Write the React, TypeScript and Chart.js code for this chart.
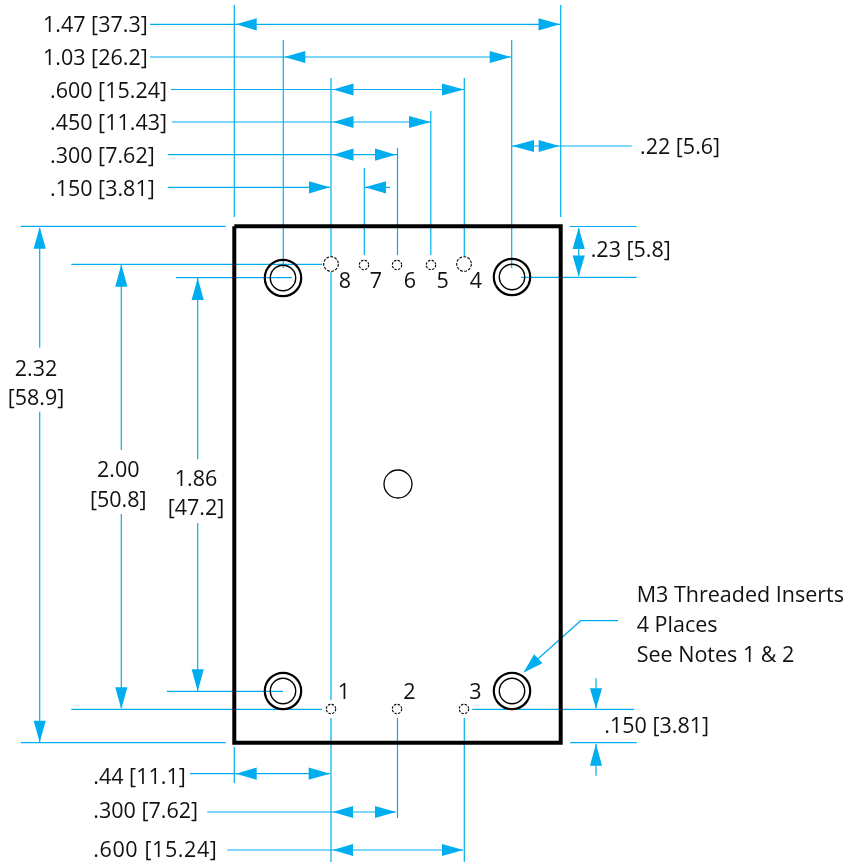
import React, { useEffect, useRef } from "react";
import { Chart, registerables } from "chart.js";

Chart.register(...registerables);

const WIDTH = 845;
const HEIGHT = 863;
const CYAN = "#00AEEF";
const INK = "#111111";

// Drawing read-offs, in drawing units (x1, y1, x2, y2)
const extensionLines: number[][] = [
  [234.3, 5, 234.3, 217], [283.3, 40, 283.3, 268], [331, 78, 331, 257], [331, 272, 331, 700],
  [331, 718, 331, 862], [364.3, 168, 364.3, 255], [397.5, 148, 397.5, 255], [430.8, 111, 430.8, 255],
  [464.3, 78, 464.3, 256], [511.7, 40, 511.7, 268], [560.7, 5, 560.7, 217],
  [234.3, 747, 234.3, 783], [397.5, 718, 397.5, 818], [464.3, 718, 464.3, 862],
  [20.7, 226.3, 225.7, 226.3], [71.3, 264.3, 322, 264.3], [176, 277.7, 292, 277.7],
  [167, 691.3, 283, 691.3], [71.3, 709.3, 322, 709.3], [20.7, 742.7, 225.7, 742.7],
  [569.7, 226.5, 636.7, 226.5], [521, 277.3, 636.7, 277.3], [472.3, 709.3, 634.3, 709.3], [570, 742.7, 636.7, 742.7],
];
const dimensionLines: number[][] = [
  [150, 24.3, 560, 24.3], [150, 57, 511, 57], [171, 89.5, 464, 89.5], [172, 122, 431, 122],
  [168, 154.7, 397, 154.7], [168, 187.3, 330, 187.3], [365, 187.3, 390, 187.3], [512, 146, 631.7, 146],
  [578.7, 228, 578.7, 276], [39.7, 228, 39.7, 347.7], [39.7, 411.7, 39.7, 742], [121.3, 265, 121.3, 450],
  [121.3, 514, 121.3, 708], [197.7, 278, 197.7, 459.3], [197.7, 523, 197.7, 691], [190, 773.7, 330, 773.7],
  [207.3, 812, 396, 812], [227.3, 850, 463, 850], [596, 678.3, 596, 708], [596, 744, 596, 775.7],
];
const leaderX = [618, 580.7, 530];
const leaderY = [620.7, 620.7, 666];

// tip x, tip y, base x, base y
const arrows: number[][] = [
  [236, 24.3, 256.7, 24.3], [560, 24.3, 538.5, 24.3], [284.3, 57, 305.3, 57], [511, 57, 489.7, 57],
  [333, 89.5, 353.5, 89.5], [464, 89.5, 442, 89.5], [333, 122, 353.5, 122], [431, 122, 409, 122],
  [333, 154.7, 353.5, 154.7], [396, 154.7, 375, 154.7], [330, 187.3, 309, 187.3], [365, 187.3, 386, 187.3],
  [512, 146, 534, 146], [559.3, 146, 538.7, 146], [578.7, 227.5, 578.7, 249], [578.7, 276.5, 578.7, 255.5],
  [39.7, 227, 39.7, 248.7], [39.7, 742.3, 39.7, 720.7], [121.3, 264.5, 121.3, 286.7], [121.3, 709, 121.3, 687.3],
  [197.7, 278, 197.7, 300], [197.7, 691.3, 197.7, 669.3], [235.7, 773.7, 256.7, 773.7], [330, 773.7, 308.7, 773.7],
  [332.7, 812, 353, 812], [396, 812, 375, 812], [332.7, 850, 353, 850], [463.3, 850, 442, 850],
  [596, 708.7, 596, 688.3], [596, 744, 596, 765.7], [523.3, 672.7, 538.3, 658.7],
];

const boardX = [234.3, 560.7, 560.7, 234.3, 234.3];
const boardY = [226.3, 226.3, 742.8, 742.8, 226.3];

const insertX = [283, 512, 283, 512];
const insertY = [278, 277, 691, 691];
const centerHoleX = [398];
const centerHoleY = [484];
const largePinX = [331, 464];
const largePinY = [264, 264];
const smallPinX = [364, 397, 431, 331, 397, 464];
const smallPinY = [265, 265, 265, 709, 709, 709];

const labelText = [
  "1.47 [37.3]", "1.03 [26.2]", ".600 [15.24]", ".450 [11.43]", ".300 [7.62]", ".150 [3.81]",
  ".22 [5.6]", ".23 [5.8]", ".44 [11.1]", ".300 [7.62]", ".600 [15.24]", ".150 [3.81]",
  "M3 Threaded Inserts", "4 Places", "See Notes 1 & 2",
];
const labelX = [43, 43, 50, 50, 50, 50, 640, 590.7, 93.3, 93.3, 93.3, 604.3, 636.7, 636.7, 636.7];
const labelY = [32, 64.5, 97.5, 130.3, 163, 195.7, 154.3, 257, 784, 818.3, 857.3, 732.7, 602.3, 631.7, 661.7];
const labelTracking = [0, 0, 0, 0, 0, 0, 0, 0, 0, 0, 0.6, 0, 0, 0, 0];

const centeredText = [
  "8", "7", "6", "5", "4", "1", "2", "3", "2.32", "[58.9]", "2.00", "[50.8]", "1.86", "[47.2]",
];
const centeredX = [345, 376, 410, 442.6, 476, 344, 409.3, 475.3, 36, 36, 118.3, 118.3, 196, 196];
const centeredY = [288.3, 288.3, 288.3, 288.3, 288.3, 699.3, 699.3, 699.3, 376, 405, 476.7, 506.7, 486, 515];

const FONT = '21.5px "Open Sans"';

function ringImage(rings: { r: number; w: number; dash?: number[] }[]) {
  const maxR = Math.max(...rings.map((k) => k.r + k.w));
  const size = Math.ceil(maxR + 2) * 2;
  const c = document.createElement("canvas");
  c.width = size;
  c.height = size;
  const ctx = c.getContext("2d")!;
  ctx.strokeStyle = "#000";
  rings.forEach((k) => {
    ctx.beginPath();
    ctx.lineWidth = k.w;
    ctx.setLineDash(k.dash || []);
    ctx.arc(size / 2, size / 2, k.r, 0, Math.PI * 2);
    ctx.stroke();
  });
  return c;
}

function segmentsToPoints(segs: number[][]) {
  const pts: { x: number; y: number }[] = [];
  segs.forEach(([x1, y1, x2, y2]) => {
    pts.push({ x: x1, y: y1 }, { x: x2, y: y2 }, { x: NaN, y: NaN });
  });
  return pts;
}

function arrowPoints([tx, ty, bx, by]: number[]) {
  const dx = bx - tx;
  const dy = by - ty;
  const len = Math.hypot(dx, dy) || 1;
  const hw = 6.1;
  const nx = (-dy / len) * hw;
  const ny = (dx / len) * hw;
  return [
    { x: tx, y: ty },
    { x: bx + nx, y: by + ny },
    { x: bx - nx, y: by - ny },
    { x: tx, y: ty },
  ];
}

function zip(xs: number[], ys: number[]) {
  return xs.map((x, i) => ({ x, y: ys[i] }));
}

const textPlugin = {
  id: "drawingText",
  afterDatasetsDraw(chart: any) {
    const { ctx, scales } = chart;
    ctx.save();
    ctx.fillStyle = INK;
    ctx.font = FONT;
    ctx.textBaseline = "alphabetic";
    ctx.textAlign = "left";
    labelText.forEach((t, i) => {
      ctx.letterSpacing = labelTracking[i] + "px";
      ctx.fillText(t, scales.x.getPixelForValue(labelX[i]), scales.y.getPixelForValue(labelY[i]));
    });
    ctx.letterSpacing = "0px";
    ctx.textAlign = "center";
    centeredText.forEach((t, i) => {
      ctx.fillText(t, scales.x.getPixelForValue(centeredX[i]), scales.y.getPixelForValue(centeredY[i]));
    });
    ctx.restore();
  },
};

export default function App() {
  const ref = useRef<HTMLCanvasElement>(null);
  useEffect(() => {
    const lineBase = { showLine: true, pointRadius: 0, tension: 0, spanGaps: false };
    const pointBase = { showLine: false, pointHoverRadius: 0 };
    const datasets: any[] = [
      { ...lineBase, label: "board", data: zip(boardX, boardY), borderColor: "#000", borderWidth: 4, borderJoinStyle: "miter", fill: false },
      { ...pointBase, label: "inserts", data: zip(insertX, insertY), pointStyle: ringImage([{ r: 18.2, w: 2.2 }, { r: 12.7, w: 1.4 }]) },
      { ...pointBase, label: "center hole", data: zip(centerHoleX, centerHoleY), pointStyle: ringImage([{ r: 14, w: 1.3 }]) },
      { ...pointBase, label: "large pins", data: zip(largePinX, largePinY), pointStyle: ringImage([{ r: 7.3, w: 1.1, dash: [2.8, 1.4] }]) },
      { ...pointBase, label: "small pins", data: zip(smallPinX, smallPinY), pointStyle: ringImage([{ r: 4.7, w: 1.1, dash: [2.4, 1.3] }]) },
      { ...lineBase, label: "extensions", data: segmentsToPoints(extensionLines), borderColor: CYAN, borderWidth: 1.2, fill: false },
      { ...lineBase, label: "dimensions", data: segmentsToPoints(dimensionLines), borderColor: CYAN, borderWidth: 1.2, fill: false },
      { ...lineBase, label: "leader", data: zip(leaderX, leaderY), borderColor: CYAN, borderWidth: 1.2, fill: false },
      ...arrows.map((a, i) => ({
        ...lineBase,
        label: "arrow " + i,
        data: arrowPoints(a),
        borderWidth: 0,
        borderColor: CYAN,
        backgroundColor: CYAN,
        fill: "shape",
      })),
    ];
    const chart = new Chart(ref.current!, {
      type: "scatter",
      data: { datasets },
      options: {
        animation: false,
        responsive: false,
        events: [],
        layout: { padding: 0, autoPadding: false },
        plugins: { legend: { display: false }, tooltip: { enabled: false }, title: { display: false } },
        scales: {
          x: { type: "linear", min: 0, max: WIDTH, display: false },
          y: { type: "linear", min: 0, max: HEIGHT, reverse: true, display: false },
        },
      },
      plugins: [textPlugin],
    } as any);
    return () => chart.destroy();
  }, []);
  return (
    <div style={{ position: "absolute", left: 0, top: 0, width: WIDTH, height: HEIGHT, background: "#fff" }}>
      <canvas ref={ref} width={WIDTH} height={HEIGHT} style={{ display: "block" }} />
    </div>
  );
}
